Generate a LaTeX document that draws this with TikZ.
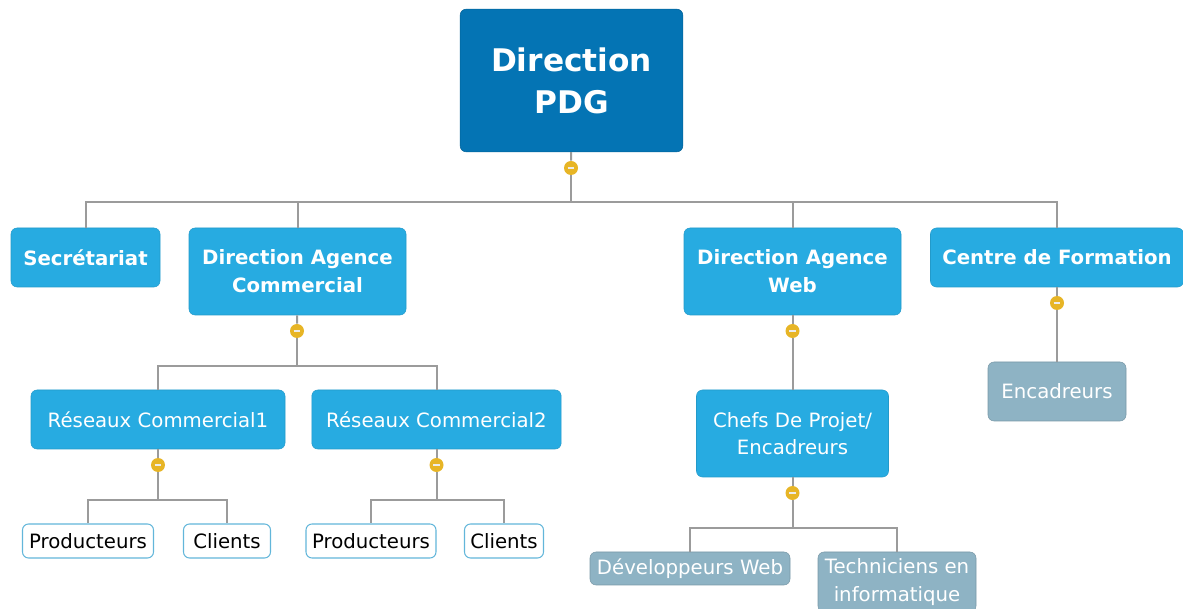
\documentclass[tikz,border=0pt]{standalone}
\usepackage{fontspec}
\setmainfont{DejaVu Sans}
\usetikzlibrary{positioning}

\definecolor{pdgblue}{HTML}{0474B4}
\definecolor{deptblue}{HTML}{27ABE1}
\definecolor{staffgray}{HTML}{8EB3C4}
\definecolor{leafline}{HTML}{62B6DA}
\definecolor{linkgray}{HTML}{9B9B9B}
\definecolor{knobyellow}{HTML}{E7B526}

\begin{document}
\begin{tikzpicture}[x=0.75pt,y=-0.75pt]

\tikzset{
  box/.style={rounded corners=4.5pt, align=center, inner sep=0pt,
    font=\fontsize{14.8}{20.5}\selectfont},
  pdg/.style={box, fill=pdgblue, draw=pdgblue!85!black, text=white,
    font=\bfseries\fontsize{23.4}{31.5}\selectfont},
  dept/.style={box, fill=deptblue, draw=deptblue!90!black, text=white,
    font=\bfseries\fontsize{14.8}{21}\selectfont},
  unit/.style={box, fill=deptblue, draw=deptblue!90!black, text=white},
  staff/.style={box, fill=staffgray, draw=staffgray!85!black, text=white},
  leaf/.style={box, fill=white, draw=leafline, text=black, line width=0.8pt},
  knob/.style={circle, fill=knobyellow, minimum size=10.5pt, inner sep=0pt,
    path picture={\draw[white!85!gray, line width=1.4pt]
      ([xshift=-2.6pt]path picture bounding box.center) --
      ([xshift=2.6pt]path picture bounding box.center);}},
  link/.style={draw=linkgray, line width=1.5pt}
}

\useasboundingbox (0,0) rectangle (1183,609);

% direction
\node[pdg, minimum width=167pt, minimum height=107pt] (pdg) at (571.5,80.5) {Direction\\PDG};
\node[knob] (k0) at (571,168) {};
\coordinate (bus0) at (0,202);

% departments
\node[dept, minimum width=111.75pt, minimum height=44.25pt] (sec) at (85.5,257.5) {Secrétariat};
\node[dept, minimum width=162.75pt, minimum height=65.25pt] (dac) at (297.5,271.5) {Direction Agence\\Commercial};
\node[dept, minimum width=162.75pt, minimum height=65.25pt] (daw) at (792.5,271.5) {Direction Agence\\Web};
\node[dept, minimum width=189.75pt, minimum height=44.25pt] (cdf) at (1057,257.5) {Centre de Formation};

\draw[link] (pdg) -- (k0);
\foreach \dep in {sec,dac,daw,cdf}
  \draw[link] (k0) -- (k0 |- bus0) -| (\dep);

% agence commerciale
\node[knob] (k1) at (297,331) {};
\coordinate (bus1) at (0,366);
\node[unit, minimum width=190.5pt, minimum height=44.25pt] (rc1) at (158,419.5) {Réseaux Commercial1};
\node[unit, minimum width=187pt, minimum height=44.25pt] (rc2) at (436.5,419.5) {Réseaux Commercial2};
\draw[link] (dac) -- (k1);
\foreach \rc in {rc1,rc2}
  \draw[link] (k1) -- (k1 |- bus1) -| (\rc);

\node[knob] (k11) at (158,465) {};
\node[knob] (k12) at (436.5,465) {};
\coordinate (bus2) at (0,500);
\node[leaf, minimum width=98.25pt, minimum height=25.5pt] (prod1) at (88,541) {Producteurs};
\node[leaf, minimum width=65.25pt, minimum height=25.5pt] (cli1) at (227,541) {Clients};
\node[leaf, minimum width=97.5pt, minimum height=25.5pt] (prod2) at (371,541) {Producteurs};
\node[leaf, minimum width=59.25pt, minimum height=25.5pt] (cli2) at (504,541) {Clients};
\draw[link] (rc1) -- (k11);
\draw[link] (rc2) -- (k12);
\foreach \lf in {prod1,cli1}
  \draw[link] (k11) -- (k11 |- bus2) -| (\lf);
\foreach \lf in {prod2,cli2}
  \draw[link] (k12) -- (k12 |- bus2) -| (\lf);

% agence web
\node[knob] (k2) at (792.5,331) {};
\node[unit, minimum width=144pt, minimum height=65.25pt] (chefs) at (792.5,433.5) {Chefs De Projet/\\Encadreurs};
\node[knob] (k21) at (792.5,493) {};
\coordinate (bus3) at (0,528);
\node[staff, minimum width=150pt, minimum height=24.75pt] (dev) at (690,568.5) {Développeurs Web};
\node[staff, minimum width=118.5pt, minimum height=45pt] (tech) at (897,582) {Techniciens en\\informatique};
\draw[link] (daw) -- (k2) -- (chefs);
\draw[link] (chefs) -- (k21);
\foreach \lf in {dev,tech}
  \draw[link] (k21) -- (k21 |- bus3) -| (\lf);

% formation
\node[knob] (k3) at (1057,303) {};
\node[staff, minimum width=103.5pt, minimum height=44.25pt] (enc) at (1057,391.5) {Encadreurs};
\draw[link] (cdf) -- (k3) -- (enc);

\end{tikzpicture}
\end{document}
